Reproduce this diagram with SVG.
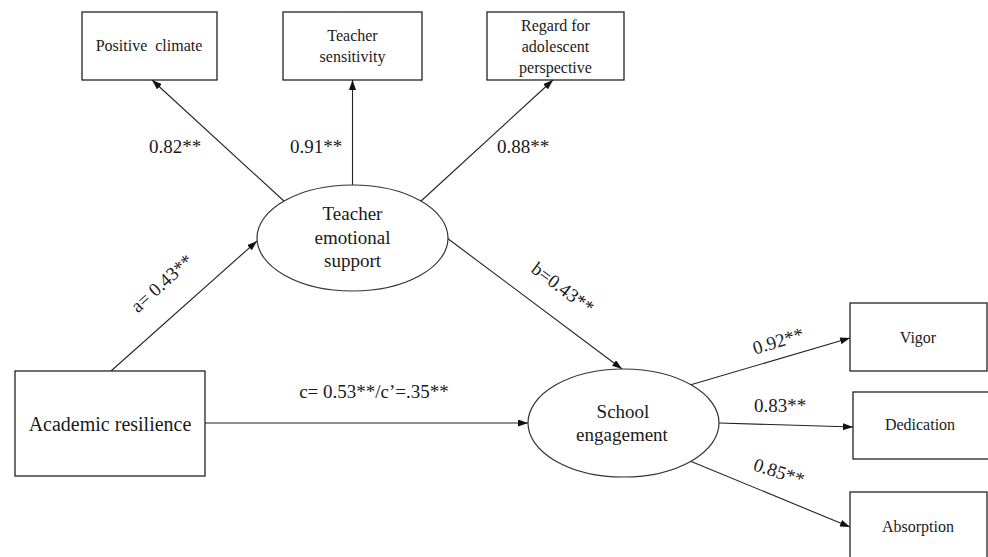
<svg xmlns="http://www.w3.org/2000/svg" width="988" height="557" viewBox="0 0 988 557" font-family="'Liberation Serif', 'Times New Roman', 'DejaVu Serif', serif">
<defs>
<marker id="arr" viewBox="0 0 10 7" refX="10" refY="3.5" markerWidth="10" markerHeight="7" markerUnits="userSpaceOnUse" orient="auto">
<path d="M0,0 L10,3.5 L0,7 z" fill="#111"/>
</marker>
<style>
text{font-family:'Liberation Serif','Times New Roman','DejaVu Serif',serif;fill:#1a1a1a}
.box{fill:#fff;stroke:#222;stroke-width:1.3}
.ell{fill:#fff;stroke:#333;stroke-width:1.2}
.edge{stroke:#222;stroke-width:1.1;fill:none;marker-end:url(#arr)}
.sm{font-size:16px;text-anchor:middle}
.md{font-size:19px;text-anchor:middle}
.lg{font-size:20px;text-anchor:middle}
.lbl{font-size:19px;text-anchor:middle}
</style>
</defs>
<rect width="988" height="557" fill="#fff"/>
<g id="connectors">
<line class="edge" x1="285" y1="202" x2="152" y2="80"/>
<line class="edge" x1="352.5" y1="185" x2="352.5" y2="80"/>
<line class="edge" x1="420" y1="202" x2="553" y2="80"/>
<line class="edge" x1="111" y1="371" x2="257" y2="241"/>
<line class="edge" x1="205" y1="423" x2="528" y2="423"/>
<line class="edge" x1="447" y1="238" x2="622" y2="369"/>
<line class="edge" x1="690" y1="385" x2="850" y2="338"/>
<line class="edge" x1="719" y1="423" x2="853" y2="427"/>
<line class="edge" x1="690" y1="461" x2="850" y2="527"/>
<text class="lbl" x="175" y="153">0.82**</text>
<text class="lbl" x="316" y="153">0.91**</text>
<text class="lbl" x="523" y="153">0.88**</text>
<text class="lbl" transform="translate(166,288) rotate(-41.9)">a= 0.43**</text>
<text class="lbl" transform="translate(559,293) rotate(36.8)">b=0.43**</text>
<text class="lbl" x="374" y="398">c= 0.53**/c’=.35**</text>
<text class="lbl" transform="translate(780,347) rotate(-17)">0.92**</text>
<text class="lbl" x="780" y="412">0.83**</text>
<text class="lbl" transform="translate(777,478) rotate(18)">0.85**</text>
</g>
<g id="positive-climate">
<rect class="box" x="82" y="12" width="135" height="68"/>
<text class="sm" x="149" y="51" xml:space="preserve">Positive  climate</text>
</g>
<g id="teacher-sensitivity">
<rect class="box" x="283" y="12" width="139" height="68"/>
<text class="sm" x="352.5" y="41">Teacher</text>
<text class="sm" x="352.5" y="62">sensitivity</text>
</g>
<g id="regard">
<rect class="box" x="487" y="12" width="137" height="68"/>
<text class="sm" x="555.5" y="31">Regard for</text>
<text class="sm" x="555.5" y="52">adolescent</text>
<text class="sm" x="555.5" y="73">perspective</text>
</g>
<g id="teacher-emotional-support">
<ellipse class="ell" cx="352.5" cy="238" rx="95.5" ry="53"/>
<text class="md" x="352.5" y="220">Teacher</text>
<text class="md" x="352.5" y="244">emotional</text>
<text class="md" x="352.5" y="267">support</text>
</g>
<g id="academic-resilience">
<rect class="box" x="15" y="371" width="190" height="105"/>
<text class="lg" x="110" y="431">Academic resilience</text>
</g>
<g id="school-engagement">
<ellipse class="ell" cx="623.5" cy="423" rx="95.5" ry="54"/>
<text class="md" x="623" y="418">School</text>
<text class="md" x="622" y="441">engagement</text>
</g>
<g id="vigor">
<rect class="box" x="850" y="303" width="137" height="68"/>
<text class="sm" x="918" y="343">Vigor</text>
</g>
<g id="dedication">
<rect class="box" x="853" y="392" width="140" height="67"/>
<text class="sm" x="920" y="430">Dedication</text>
</g>
<g id="absorption">
<rect class="box" x="850" y="492" width="137" height="70"/>
<text class="sm" x="918" y="532">Absorption</text>
</g>
</svg>
